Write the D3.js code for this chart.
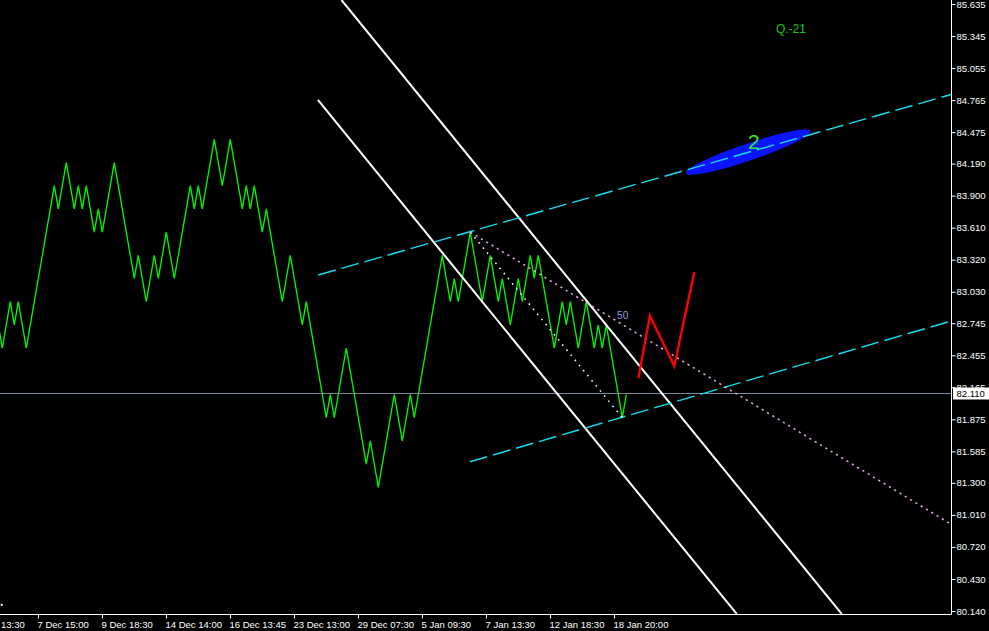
<!DOCTYPE html>
<html><head><meta charset="utf-8">
<script src="https://cdn.jsdelivr.net/npm/d3@7"></script>
<style>html,body{margin:0;padding:0;background:#000;overflow:hidden}svg{display:block}</style>
</head><body>
<svg id="chart" width="989" height="631"></svg>
<script>
// ---- data ----
const firstBar = -1;
const closes = [
  82.73, 82.52, 82.73, 82.94, 82.73, 82.94, 82.73, 82.52, 82.73, 82.94,
  83.15, 83.36, 83.57, 83.78, 83.99, 83.78, 83.99, 84.20, 83.99, 83.78,
  83.99, 83.78, 83.99, 83.78, 83.57, 83.78, 83.57, 83.78, 83.99, 84.20,
  83.99, 83.78, 83.57, 83.36, 83.15, 83.36, 83.15, 82.94, 83.15, 83.36,
  83.15, 83.36, 83.57, 83.36, 83.15, 83.36, 83.57, 83.78, 83.99, 83.78,
  83.99, 83.78, 83.99, 84.20, 84.41, 84.20, 83.99, 84.20, 84.41, 84.20,
  83.99, 83.78, 83.99, 83.78, 83.99, 83.78, 83.57, 83.78, 83.57, 83.36,
  83.15, 82.94, 83.15, 83.36, 83.15, 82.94, 82.73, 82.94, 82.73, 82.52,
  82.31, 82.10, 81.89, 82.10, 81.89, 82.10, 82.31, 82.52, 82.31, 82.10,
  81.89, 81.68, 81.47, 81.68, 81.47, 81.26, 81.47, 81.68, 81.89, 82.10,
  81.89, 81.68, 81.89, 82.10, 81.89, 82.10, 82.31, 82.52, 82.73, 82.94,
  83.15, 83.36, 83.15, 82.94, 83.15, 82.94, 83.15, 83.36, 83.57, 83.36,
  83.15, 82.94, 83.15, 83.36, 83.15, 82.94, 83.15, 82.94, 82.73, 82.94,
  83.15, 82.94, 83.15, 83.36, 83.15, 83.36, 83.15, 82.94, 82.73, 82.52,
  82.73, 82.94, 82.73, 82.94, 82.73, 82.52, 82.73, 82.94, 82.73, 82.52,
  82.73, 82.52, 82.73, 82.52, 82.31, 82.10, 81.89, 82.10
];
const priceTicks = [85.635, 85.345, 85.055, 84.765, 84.475, 84.190, 83.900, 83.610, 83.320, 83.030,
  82.745, 82.455, 82.165, 81.875, 81.585, 81.300, 81.010, 80.720, 80.430, 80.140];
const timeTickBars = [-7, 9, 25, 41, 57, 73, 89, 105, 121, 137, 153];
const timeTickLabels = ["3 Dec 13:30", "7 Dec 15:00", "9 Dec 18:30", "14 Dec 14:00", "16 Dec 13:45",
  "23 Dec 13:00", "29 Dec 07:30", "5 Jan 09:30", "7 Jan 13:30", "12 Jan 18:30", "18 Jan 20:00"];
const bidPrice = 82.110;
// trend lines: [bar1, price1, bar2, price2]
const whiteTrendLines = [[84.8, 85.671, 209.85, 80.113], [78.9, 84.766, 183.6, 80.113]];
const cyanChannel = [[79.0, 83.182, 237.2, 84.816], [116.9, 81.491, 237.2, 82.765]];
const whiteDotted = [117, 83.57, 155, 81.89];
const pinkDotted = [117, 83.57, 237, 80.93];
const redBars = [159, 161.9, 168, 173];
const redPrices = [82.246, 82.813, 82.358, 83.206];
const ellipsePts = [170.9, 84.102, 202.0, 84.485];
const textLabels = [
  {bar: 187.9, price: 84.322, text: "2"},
  {bar: 193.4, price: 85.372, text: "Q.-21"},
  {bar: 153.7, price: 82.779, text: "50"}
];
const markerPoint = [-0.15, 80.196];

// ---- scales ----
const W = 989, H = 631, plotR = 951.5, plotB = 614.5;
const x = d3.scaleLinear().domain([0, 100]).range([2.3, 402.3]);
const y = d3.scaleLinear().domain([80.140, 85.635]).range([611, 4]);

const svg = d3.select("#chart");
svg.append("rect").attr("width", W).attr("height", H).attr("fill", "#000");
svg.append("defs").append("clipPath").attr("id", "plot")
  .append("rect").attr("x", 0).attr("y", 0).attr("width", plotR).attr("height", plotB);
const g = svg.append("g").attr("clip-path", "url(#plot)");

// price line
const line = d3.line().x((d, i) => x(firstBar + i)).y(d => y(d));
g.append("path").datum(closes).attr("d", line).attr("fill", "none")
  .attr("stroke", "#00f400").attr("stroke-width", 1.35);

// bid line
g.append("line").attr("x1", 0).attr("x2", plotR)
  .attr("y1", Math.round(y(bidPrice)) + 0.5).attr("y2", Math.round(y(bidPrice)) + 0.5)
  .attr("stroke", "#7a8a9c").attr("stroke-width", 1);

// ellipse
{
  const [b1, p1, b2, p2] = ellipsePts;
  const x1 = x(b1), y1 = y(p1), x2 = x(b2), y2 = y(p2);
  const cx = (x1 + x2) / 2, cy = (y1 + y2) / 2;
  const rx = Math.hypot(x2 - x1, y2 - y1) / 2;
  const ang = Math.atan2(y2 - y1, x2 - x1) * 180 / Math.PI;
  g.append("ellipse").attr("cx", 0).attr("cy", 0).attr("rx", rx).attr("ry", 8.5)
    .attr("transform", `translate(${cx},${cy}) rotate(${ang})`).attr("fill", "#0a14ff");
}

// white trend lines
g.selectAll(".wl").data(whiteTrendLines).enter().append("line")
  .attr("x1", d => x(d[0])).attr("y1", d => y(d[1]))
  .attr("x2", d => x(d[2])).attr("y2", d => y(d[3]))
  .attr("stroke", "#fff").attr("stroke-width", 2);

// cyan channel
g.selectAll(".cl").data(cyanChannel).enter().append("line")
  .attr("x1", d => x(d[0])).attr("y1", d => y(d[1]))
  .attr("x2", d => x(d[2])).attr("y2", d => y(d[3]))
  .attr("stroke", "#10e0f0").attr("stroke-width", 1.4).attr("stroke-dasharray", "18,6");

// dotted lines
g.append("line").attr("x1", x(whiteDotted[0])).attr("y1", y(whiteDotted[1]))
  .attr("x2", x(whiteDotted[2])).attr("y2", y(whiteDotted[3]))
  .attr("stroke", "#fff").attr("stroke-width", 1.5).attr("stroke-dasharray", "1.6,5");
g.append("line").attr("x1", x(pinkDotted[0])).attr("y1", y(pinkDotted[1]))
  .attr("x2", x(pinkDotted[2])).attr("y2", y(pinkDotted[3]))
  .attr("stroke", "#eaa6ea").attr("stroke-width", 1.5).attr("stroke-dasharray", "2.2,4");

// red zigzag
g.append("path").datum(redBars.map((b, i) => [b, redPrices[i]]))
  .attr("d", d3.line().x(d => x(d[0])).y(d => y(d[1])))
  .attr("fill", "none").attr("stroke", "#ff0000").attr("stroke-width", 2.4);

// text labels
const styles = {
  "2": {fill: "#2ee82e", size: 21, anchor: "middle"},
  "Q.-21": {fill: "#12c812", size: 12, anchor: "start"},
  "50": {fill: "#9a9ae6", size: 10, anchor: "start"}
};
g.selectAll(".tl").data(textLabels).enter().append("text")
  .attr("x", d => x(d.bar)).attr("y", d => y(d.price))
  .attr("fill", d => styles[d.text].fill).attr("font-size", d => styles[d.text].size)
  .attr("text-anchor", d => styles[d.text].anchor)
  .attr("font-family", "Liberation Sans, Arial, sans-serif")
  .text(d => d.text);

// small marker
g.append("rect").attr("x", x(markerPoint[0]) - 1).attr("y", y(markerPoint[1]) - 1)
  .attr("width", 2).attr("height", 2).attr("fill", "#fff");

// ---- axes ----
const font = "Liberation Sans, Arial, sans-serif";
const yAxis = d3.axisRight(y).tickValues(priceTicks).tickSize(4).tickPadding(1)
  .tickFormat(d3.format(".3f"));
const ya = svg.append("g").attr("transform", `translate(${plotR},0)`).call(yAxis);
ya.select(".domain").remove();
ya.selectAll(".tick line").attr("stroke", "#fff");
ya.selectAll(".tick text").attr("fill", "#fff").attr("font-size", 9.5).attr("font-family", font);

const xAxis = d3.axisBottom(x).tickValues(timeTickBars).tickSize(4).tickPadding(3)
  .tickFormat((d, i) => timeTickLabels[i]);
const xa = svg.append("g").attr("transform", `translate(0,${plotB})`).call(xAxis);
xa.select(".domain").remove();
xa.selectAll(".tick").attr("transform", d => `translate(${Math.floor(x(d)) + 0.5},0)`);
xa.selectAll(".tick line").attr("stroke", "#fff");
xa.selectAll(".tick text").attr("fill", "#fff").attr("font-size", 9.5).attr("font-family", font)
  .attr("text-anchor", "start").attr("x", -1);

// axis frame lines
svg.append("line").attr("x1", 0).attr("x2", plotR).attr("y1", plotB).attr("y2", plotB)
  .attr("stroke", "#fff").attr("stroke-width", 1);
svg.append("line").attr("x1", plotR).attr("x2", plotR).attr("y1", 0).attr("y2", plotB)
  .attr("stroke", "#fff").attr("stroke-width", 1);

// bid label
const by = Math.round(y(bidPrice));
svg.append("rect").attr("x", plotR + 1.5).attr("y", by - 5.5).attr("width", W - plotR).attr("height", 12)
  .attr("fill", "#fff");
svg.append("text").attr("x", plotR + 5).attr("y", by + 4).attr("fill", "#000")
  .attr("font-size", 9.5).attr("font-family", font).text(d3.format(".3f")(bidPrice));
</script>
</body></html>
